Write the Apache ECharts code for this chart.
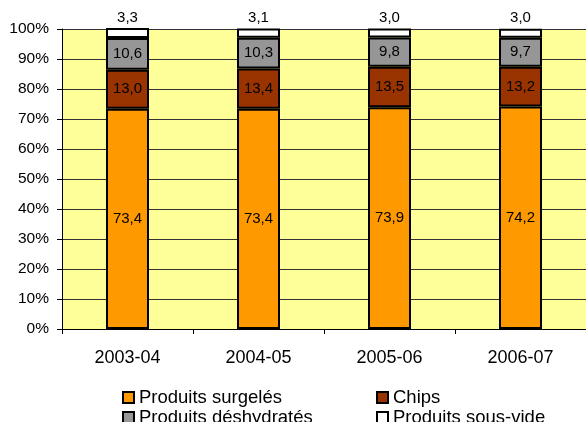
<!DOCTYPE html>
<html><head><meta charset="utf-8">
<script src="https://cdn.jsdelivr.net/npm/echarts@6/dist/echarts.min.js"></script>
<style>html,body{margin:0;padding:0;background:#fff}#c{width:586px;height:422px}</style>
</head><body><div id="c"></div>
<script>
var categories = ['2003-04','2004-05','2005-06','2006-07'];
var surgeles = [73.4, 73.4, 73.9, 74.2];
var chips = [13.0, 13.4, 13.5, 13.2];
var deshydrates = [10.6, 10.3, 9.8, 9.7];
var sousvide = [3.3, 3.1, 3.0, 3.0];
var yTicks = [0,10,20,30,40,50,60,70,80,90,100];

var font = 'Liberation Sans, Arial, sans-serif';
function fmt(p){ return p.value.toFixed(1).replace('.', ','); }
function mk(name, data, color, labelPos){
  return {
    name: name, type: 'bar', stack: 'a', data: data, barWidth: 43,
    itemStyle: {color: color, borderColor: '#000', borderWidth: 2},
    label: {show: true, position: labelPos, formatter: fmt, color: '#000',
            fontFamily: font, fontSize: 15, distance: 3},
    emphasis: {disabled: true}
  };
}
function leg(left, names){
  return {orient: 'vertical', left: left, top: 388, height: 60, itemWidth: 11, itemHeight: 11, itemGap: 1,
     icon: 'rect', data: names, padding: 0,
     textStyle: {color: '#000', fontFamily: font, fontSize: 18.5, lineHeight: 17},
     itemStyle: {borderColor: '#000', borderWidth: 2}};
}
var chart = echarts.init(document.getElementById('c'));
chart.setOption({
  animation: false,
  grid: {left: 62, right: 0, top: 29, bottom: 93, show: true, backgroundColor: '#FFFF99', borderWidth: 0},
  xAxis: {type: 'category', data: categories,
    axisLine: {lineStyle: {color: '#000', width: 1}},
    axisTick: {show: true, alignWithLabel: false, length: 5, lineStyle: {color: '#000'}},
    axisLabel: {color: '#000', fontFamily: font, fontSize: 18, margin: 20}},
  yAxis: {type: 'value', min: 0, max: 100, interval: 10,
    axisLine: {show: true, lineStyle: {color: '#000'}},
    axisTick: {show: true, length: 5, lineStyle: {color: '#000'}},
    splitLine: {lineStyle: {color: '#333', width: 1}},
    axisLabel: {color: '#000', fontFamily: font, fontSize: 15.5, margin: 13,
      formatter: function(v){ return yTicks.indexOf(v) >= 0 ? v + '%' : ''; }}},
  legend: [
    leg(122, ['Produits surgelés','Produits déshydratés']),
    leg(376, ['Chips','Produits sous-vide'])
  ],
  series: [
    mk('Produits surgelés', surgeles, '#FF9900', 'inside'),
    mk('Chips', chips, '#993300', 'inside'),
    mk('Produits déshydratés', deshydrates, '#969696', 'inside'),
    mk('Produits sous-vide', sousvide, '#FFFFFF', 'top')
  ]
});
</script></body></html>
